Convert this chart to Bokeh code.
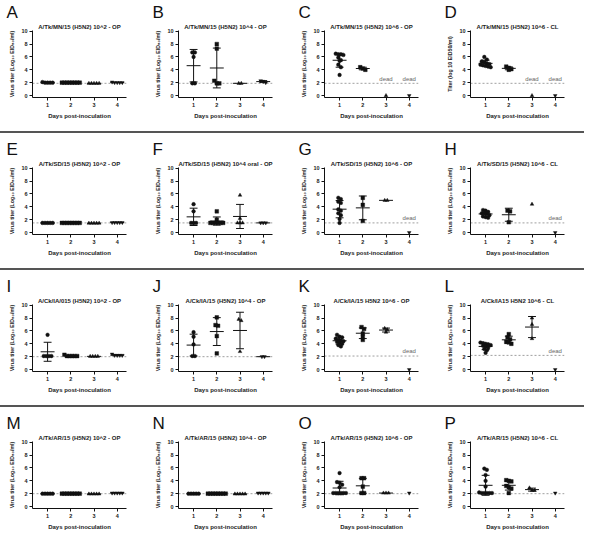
import numpy as np
from bokeh.plotting import figure
from bokeh.models import Title, Range1d, Div, FixedTicker
from bokeh.layouts import column, row
from bokeh.embed import file_html
from bokeh.resources import INLINE
from bokeh.core.properties import value

# ---------------- data ----------------
DAYS = [1, 2, 3, 4]
DAY_TICKS = ["1", "2", "3", "4"]
Y_TICKS = [0, 2, 4, 6, 8, 10]
LETTERS = ["A", "B", "C", "D", "E", "F", "G", "H", "I", "J", "K", "L", "M", "N", "O", "P"]
TITLES = [
    "A/Tk/MN/15 (H5N2) 10^2 - OP", "A/Tk/MN/15 (H5N2) 10^4 - OP",
    "A/Tk/MN/15 (H5N2) 10^6 - OP", "A/Tk/MN/15 (H5N2) 10^6 - CL",
    "A/Tk/SD/15 (H5N2) 10^2 - OP", "A/Tk/SD/15 (H5N2) 10^4 oral - OP",
    "A/Tk/SD/15 (H5N2) 10^6 - OP", "A/Tk/SD/15 (H5N2) 10^6 - CL",
    "A/Ck/IA/015 (H5N2) 10^2 - OP", "A/Ck/IA/15 (H5N2) 10^4 - OP",
    "A/Ck/IA/15 H5N2 10^6 - OP", "A/Ck/IA15 H5N2 10^6 - CL",
    "A/Tk/AR/15 (H5N2) 10^2 - OP", "A/Tk/AR/15 (H5N2) 10^4 - OP",
    "A/Tk/AR/15 (H5N2) 10^6 - OP", "A/Tk/AR/15 (H5N2) 10^6 - CL",
]
Y_LABEL = "Virus titer (Log\u2081\u2080 EID\u2085\u2080/ml)"
Y_LABEL_D = "Titer (log 10 EID50/ml)"

# titers per day (day 1, day 2, day 3, day 4)
A_TITER = [[2.1, 2.0, 2.0, 2.0, 2.0], [2.0, 2.0, 2.0, 2.0, 2.0, 2.0, 2.0, 2.0],
           [1.9, 1.9, 1.9, 1.9, 1.9], [2.1, 2.0, 2.0, 2.0, 2.0]]
B_TITER = [[6.7, 6.7, 6.0, 1.9, 1.9], [8.0, 7.3, 2.3, 1.9, 1.9], [1.9, 1.9], [2.3, 2.2, 2.0]]
C_TITER = [[6.5, 6.4, 6.4, 6.3, 5.9, 5.5, 5.4, 4.8, 4.4, 3.2], [4.4, 4.2, 4.0], [0.0], [0.0]]
D_TITER = [[6.0, 5.6, 5.3, 5.2, 5.0, 4.9, 4.8, 4.7, 4.6, 4.5, 4.4], [4.5, 4.3, 4.1, 4.0], [0.0], [0.0]]
E_TITER = [[1.5, 1.5, 1.5, 1.5, 1.5], [1.5, 1.5, 1.5, 1.5, 1.5, 1.5, 1.5, 1.5],
           [1.45, 1.45, 1.45, 1.45, 1.45], [1.55, 1.55, 1.55, 1.55, 1.55]]
F_TITER = [[4.4, 3.3, 1.5, 1.5, 1.5], [3.3, 2.0, 1.5, 1.5, 1.5, 1.5, 1.5, 1.5],
           [5.8, 2.2, 1.5, 1.5, 1.5], [1.5, 1.5, 1.5]]
G_TITER = [[5.4, 5.2, 4.8, 4.6, 3.6, 3.4, 3.0, 2.7, 2.1, 1.5], [5.4, 4.3, 1.8], [5.0, 5.0], [0.0]]
H_TITER = [[3.5, 3.4, 3.2, 3.0, 3.0, 2.9, 2.7, 2.5, 2.4, 2.3], [3.4, 3.3, 1.6], [4.4], [0.0]]
I_TITER = [[5.4, 2.1, 2.1, 2.1, 2.1], [2.3, 2.1, 2.1, 2.1, 2.1, 2.1], [2.05, 2.05, 2.05, 2.05],
           [2.4, 2.2, 2.2, 2.2, 2.2]]
J_TITER = [[5.8, 5.1, 3.9, 2.1, 2.1], [8.1, 6.9, 6.8, 5.2, 2.5], [7.8, 7.6, 2.8], [2.0, 2.0]]
K_TITER = [[5.4, 5.1, 5.0, 4.8, 4.6, 4.5, 4.4, 4.3, 4.2, 4.0, 3.8, 3.6], [6.6, 6.3, 5.6, 5.1, 4.6],
           [6.4, 6.2, 5.8], [0.0]]
L_TITER = [[4.2, 4.1, 4.0, 3.9, 3.8, 3.7, 3.6, 3.4, 3.2, 3.0, 2.6], [5.5, 5.0, 4.7, 4.3, 4.2, 4.0],
           [8.0, 7.0, 4.8], [0.0]]
M_TITER = [[2.0, 2.0, 2.0, 2.0, 2.0], [2.0, 2.0, 2.0, 2.0, 2.0, 2.0, 2.0, 2.0],
           [1.95, 1.95, 1.95, 1.95, 1.95], [2.1, 2.1, 2.1, 2.1, 2.1]]
N_TITER = [[2.0, 2.0, 2.0, 2.0, 2.0], [2.0, 2.0, 2.0, 2.0, 2.0, 2.0, 2.0, 2.0],
           [1.95, 1.95, 1.95, 1.95, 1.95], [2.1, 2.1, 2.1, 2.1, 2.1]]
O_TITER = [[5.2, 3.8, 3.7, 3.4, 3.0, 2.1, 2.1, 2.1, 2.1, 2.1, 2.1], [4.4, 4.4, 3.1, 2.1, 2.1],
           [2.1, 2.1, 2.1], [2.1]]
P_TITER = [[5.9, 5.7, 4.9, 4.0, 3.1, 2.2, 2.1, 2.1, 2.1, 2.1, 2.1], [4.1, 4.0, 3.9, 3.2, 3.0, 2.8, 2.1],
           [2.9, 2.5, 2.5], [2.1]]

ALL_TITERS = [A_TITER, B_TITER, C_TITER, D_TITER, E_TITER, F_TITER, G_TITER, H_TITER,
              I_TITER, J_TITER, K_TITER, L_TITER, M_TITER, N_TITER, O_TITER, P_TITER]
LOD = [1.9, 1.9, 1.9, 1.9, 1.5, 1.5, 1.5, 1.5, 2.0, 2.0, 2.1, 2.2, 2.0, 2.0, 2.0, 2.0]
DEAD_DAYS = [[], [], [3, 4], [3, 4], [], [], [4], [4], [], [], [4], [4], [], [], [], []]

# ---------------- style ----------------
FONT = "Liberation Sans"
MARKERS = ["circle", "square", "triangle", "inverted_triangle"]
W = 146
H = 121
X0, X1 = 0.35, 4.4


def swarm(day, vals, step=0.11, tol=0.45):
    groups = []
    for v in sorted(vals, reverse=True):
        if groups and abs(groups[-1][0] - v) <= tol:
            groups[-1].append(v)
        else:
            groups.append([v])
    xs, ys = [], []
    for g in groups:
        n = len(g)
        for i, v in enumerate(g):
            xs.append(day + (i - (n - 1) / 2) * step)
            ys.append(v)
    return xs, ys


def make_panel(k):
    p = figure(width=W, height=H, output_backend="svg", toolbar_location=None,
               x_range=Range1d(X0, X1), y_range=Range1d(-0.3, 10.1),
               min_border_left=32, min_border_right=20, min_border_top=0,
               min_border_bottom=1, title=None)
    p.outline_line_color = None
    p.xgrid.visible = False
    p.ygrid.visible = False
    p.background_fill_color = None
    p.border_fill_color = None

    p.add_layout(Title(text=TITLES[k], align="center", text_font=FONT, text_font_size="6px",
                       text_font_style="bold", text_color="#222", standoff=1), "above")
    p.add_layout(Title(text=LETTERS[k], align="left", offset=-26, text_font=FONT,
                       text_font_size="17px", text_font_style="normal", text_color="#111",
                       standoff=0), "above")

    for ax in (p.xaxis[0], p.yaxis[0]):
        ax.major_tick_out = 3
        ax.major_tick_in = 0
        ax.minor_tick_line_color = None
        ax.axis_line_color = "#111"
        ax.major_tick_line_color = "#111"
        ax.major_label_text_font = FONT
        ax.major_label_text_font_size = "5.5px"
        ax.major_label_text_font_style = "bold"
        ax.major_label_text_color = "#222"
        ax.major_label_standoff = 2
        ax.axis_label_text_font = FONT
        ax.axis_label_text_font_style = "bold"
        ax.axis_label_text_color = "#222"
        ax.axis_label_standoff = 3
    p.xaxis.ticker = FixedTicker(ticks=DAYS)
    p.xaxis.major_label_overrides = {d: t for d, t in zip(DAYS, DAY_TICKS)}
    p.yaxis.ticker = FixedTicker(ticks=Y_TICKS)
    p.xaxis.axis_label = "Days post-inoculation"
    p.xaxis.axis_label_text_font_size = "6px"
    p.yaxis.axis_label = Y_LABEL_D if k == 3 else Y_LABEL
    p.yaxis.axis_label_text_font_size = "5.3px"

    # detection limit
    p.line(x=[X0, X1], y=[LOD[k], LOD[k]], line_color="#888", line_width=0.8,
           line_dash="2 2")

    titers = ALL_TITERS[k]
    mx0, mx1, my, ex, ey0, ey1, cx0, cx1, cy = [], [], [], [], [], [], [], [], []
    for d, vals, mk in zip(DAYS, titers, MARKERS):
        xs, ys = swarm(d, vals)
        p.scatter(x=xs, y=ys, marker=mk, size=3.7, fill_color="#111", line_color="#111",
                  line_width=0.4)
        if len(vals) >= 2:
            m = float(np.mean(vals))
            s = float(np.std(vals, ddof=1))
            mx0.append(d - 0.3); mx1.append(d + 0.3); my.append(m)
            if s > 0.05:
                ex.append(d); ey0.append(m - s); ey1.append(m + s)
                cx0 += [d - 0.17, d - 0.17]; cx1 += [d + 0.17, d + 0.17]; cy += [m - s, m + s]
    p.segment(x0=mx0, y0=my, x1=mx1, y1=my, line_color="#111", line_width=1)
    p.segment(x0=ex, y0=ey0, x1=ex, y1=ey1, line_color="#111", line_width=1)
    p.segment(x0=cx0, y0=cy, x1=cx1, y1=cy, line_color="#111", line_width=1)

    dd = DEAD_DAYS[k]
    if dd:
        p.text(x=dd, y=[LOD[k] + 0.25] * len(dd), text=["dead"] * len(dd),
               text_font=value(FONT), text_font_size="6px", text_color="#666",
               text_align="center", text_baseline="bottom")
    return p


def separator():
    return Div(text='<div style="width:584px;height:0;margin-top:7px;'
                    'border-top:2px solid #555;"></div>',
               width=584, height=16, margin=0)


items = []
for r in range(4):
    panels = [make_panel(r * 4 + c) for c in range(4)]
    items.append(row(*panels))
    if r < 3:
        items.append(separator())

layout = column(*items)
open("out.html", "w").write(file_html(layout, INLINE))
